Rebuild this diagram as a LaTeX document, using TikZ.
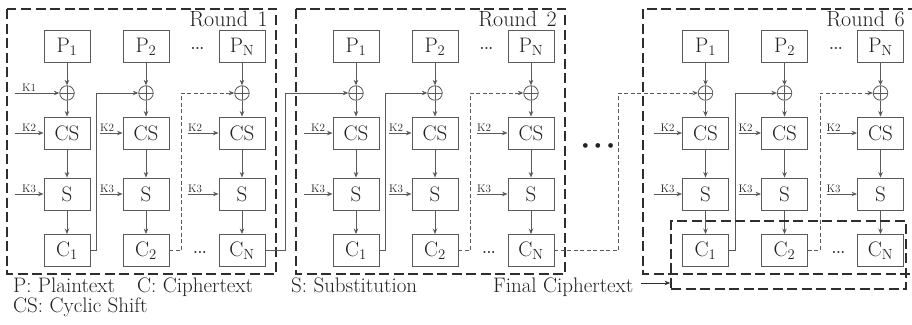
\documentclass[tikz,border=0pt]{standalone}
\usetikzlibrary{arrows.meta}
\definecolor{boxgray}{HTML}{5a5a5a}
\definecolor{txt}{HTML}{222222}
\definecolor{frame}{HTML}{2e2e2e}
\begin{document}
\begin{tikzpicture}[x=1pt,y=-1pt,
  blk/.style={draw=boxgray, line width=0.9pt, minimum width=46pt, minimum height=32pt, inner sep=0pt, text=txt, font=\fontsize{21}{24}\selectfont},
  xr/.style={circle, draw=boxgray, line width=0.8pt, minimum size=14.5pt, inner sep=0pt,
    path picture={\draw[boxgray, line width=0.7pt] (path picture bounding box.north) -- (path picture bounding box.south) (path picture bounding box.west) -- (path picture bounding box.east);}},
  conn/.style={draw=boxgray, line width=0.85pt, -{Stealth[length=5.5pt,width=4.5pt]}},
  dconn/.style={conn, dash pattern=on 4pt off 2.5pt},
  frm/.style={draw=frame, line width=1.7pt, dash pattern=on 10pt off 4.5pt},
  klab/.style={font=\fontsize{11}{11}\selectfont, text=txt, inner sep=0pt, anchor=south west},
  big/.style={font=\fontsize{21}{24}\selectfont, text=txt, inner sep=0pt},
  rlab/.style={font=\fontsize{22}{24}\selectfont, text=txt, inner sep=0pt, anchor=base east},
  dts/.style={font=\fontsize{14}{14}\bfseries\selectfont, text=txt, inner sep=0pt}
]
\useasboundingbox (0,0) rectangle (912,324);

% round frames
\draw[frm] (7,9) rectangle (276,274);
\draw[frm] (296,9) rectangle (565,274);
\draw[frm] (643,9) rectangle (914,274);
\node[rlab] (r1) at (268,27) {Round\kern3pt\ 1};
\node[rlab] (r2) at (557,27) {Round\kern3pt\ 2};
\node[rlab] (r6) at (905,27) {Round\kern3pt\ 6};

\foreach \r/\dx in {1/0, 2/289, 6/638.5}{
  \foreach \c/\cx/\ks/\lx/\sub in {a/67/15/22/1, b/146/100/100/2, n/242/188/188/N}{
    \node[blk] (P\r\c) at (\dx+\cx,46.5) {P\textsubscript{\sub}};
    \node[xr]  (X\r\c) at (\dx+\cx,93) {};
    \node[blk] (CS\r\c) at (\dx+\cx,133) {CS};
    \node[blk] (S\r\c) at (\dx+\cx,194) {S};
    \node[blk] (C\r\c) at (\dx+\cx,250.5) {C\textsubscript{\sub}};
    \draw[conn] (P\r\c) -- (X\r\c);
    \draw[conn] (X\r\c) -- (CS\r\c);
    \draw[conn] (CS\r\c) -- (S\r\c);
    \draw[conn] (S\r\c) -- (C\r\c);
    \coordinate (KB\r\c) at (\dx+\ks,133);
    \coordinate (KC\r\c) at (\dx+\ks,194);
    \draw[conn] (KB\r\c) -- (CS\r\c);
    \draw[conn] (KC\r\c) -- (S\r\c);
    \node[klab] (LB\r\c) at (\dx+\lx,131.5) {K2};
    \node[klab] (LC\r\c) at (\dx+\lx,192.5) {K3};
  }
  \node[dts] (dp\r) at (\dx+197.5,48) {...};
  \node[dts] (dc\r) at (\dx+200,252) {...};
  \draw[conn] (C\r a.east) -- ++(6,0) |- (X\r b.west);
  \draw[dconn] (C\r b.east) -- ++(12,0) |- (X\r n.west);
}

% key K1
\coordinate (KA) at (15,93);
\draw[conn] (KA) -- (X1a);
\node[klab] (LA) at (22,91.5) {K1};

% between rounds
\draw[conn] (C1n.east) -- ++(20,0) |- (X2a.west);
\draw[dconn] (C2n.east) -- ++(64,0) |- (X6a.west);
\node[text=txt, inner sep=0pt, font=\fontsize{21}{21}\selectfont] (bigdots) at (598,148) {\textbullet\kern-2.5pt\textbullet\kern-2.5pt\textbullet};

% final ciphertext
\node[frm, minimum width=235pt, minimum height=68pt, inner sep=0pt] (fin) at (788.5,255) {};
\node[big, anchor=base west] (fl) at (493,292) {Final Ciphertext};
\coordinate (fa) at (641,283);
\draw[conn, draw=frame] (fa) -- (fa -| fin.west);

% legend
\node[big, anchor=base west] (lp) at (13,292) {P: Plaintext};
\node[big, anchor=base west] (lc) at (137,292) {C: Ciphertext};
\node[big, anchor=base west] (ls) at (291,292) {S: Substitution};
\node[big, anchor=base west] (lcs) at (13,312) {CS: Cyclic Shift};
\end{tikzpicture}
\end{document}
